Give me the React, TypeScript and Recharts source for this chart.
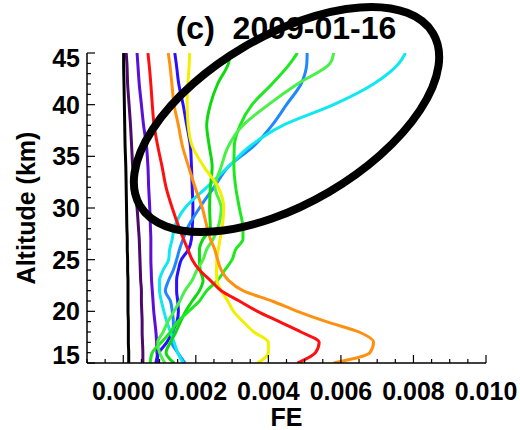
import React from 'react';
import { LineChart, Line, XAxis, YAxis, Label } from 'recharts';

// Altitude levels (km)
const ALT = [15, 16, 17, 18, 19, 20, 21, 22, 23, 24, 25, 26, 27, 28, 30, 32, 34, 36, 38, 40, 42, 44, 45];

// FE profiles (one value per altitude level above)
const BLACK = [0.00015, 0.00015, 0.00014, 0.00014, 0.00014, 0.00013, 0.00013, 0.00013, 0.00013, 0.00012, 0.00012, 0.00011, 0.00011, 0.0001, 0.00009, 0.00008, 0.00007, 0.00005, 0.00004, 0.00003, 0.00002, 0.00001, 0.00001];
const DARK_PURPLE = [0.00054, 0.00054, 0.00053, 0.00052, 0.00052, 0.00051, 0.0005, 0.0005, 0.00048, 0.00047, 0.00046, 0.00045, 0.00044, 0.00042, 0.00038, 0.00031, 0.00026, 0.00023, 0.0002, 0.00016, 0.00012, 0.0001, 0.00008];
const VIOLET = [0.00096, 0.00093, 0.00092, 0.0009, 0.00087, 0.00084, 0.00082, 0.0008, 0.00078, 0.00077, 0.00076, 0.00076, 0.00076, 0.00075, 0.00073, 0.0007, 0.00068, 0.00064, 0.00056, 0.0005, 0.00044, 0.0004, 0.00038];
const BLUE = [0.0009, 0.00098, 0.0012, 0.00135, 0.00148, 0.00152, 0.0015, 0.00147, 0.00147, 0.00152, 0.0016, 0.0018, 0.00188, 0.0019, 0.00192, 0.0019, 0.00188, 0.00185, 0.00175, 0.00165, 0.00153, 0.00146, 0.00142];
const DODGER = [0.0017, 0.0015, 0.00134, 0.00138, 0.00138, 0.00135, 0.0013, 0.00116, 0.00125, 0.00138, 0.00147, 0.00155, 0.00165, 0.00176, 0.0021, 0.0025, 0.0029, 0.0036, 0.0041, 0.0045, 0.0049, 0.00506, 0.00507];
const CYAN = [0.00165, 0.0015, 0.0014, 0.0013, 0.0012, 0.00112, 0.00105, 0.001, 0.001, 0.0011, 0.00125, 0.00128, 0.00135, 0.0014, 0.0017, 0.0023, 0.0029, 0.0035, 0.0044, 0.0058, 0.0069, 0.0076, 0.00778];
const GREEN_A = [0.0014, 0.00118, 0.0013, 0.00145, 0.00158, 0.00172, 0.0019, 0.0021, 0.0022, 0.00212, 0.0021, 0.0021, 0.0022, 0.0024, 0.00238, 0.0024, 0.00245, 0.00237, 0.0023, 0.0024, 0.0026, 0.0029, 0.00295];
const GREEN_B = [0.00074, 0.0008, 0.00105, 0.0013, 0.0015, 0.0018, 0.0021, 0.0023, 0.0026, 0.0028, 0.003, 0.0031, 0.0033, 0.0033, 0.0032, 0.0031, 0.00305, 0.00306, 0.00322, 0.00355, 0.0041, 0.0046, 0.0048];
const GREEN_C = [0.00115, 0.001, 0.00095, 0.0011, 0.00123, 0.0014, 0.00156, 0.0017, 0.0019, 0.00203, 0.0022, 0.0023, 0.00248, 0.0026, 0.0027, 0.00253, 0.0027, 0.0029, 0.0033, 0.004, 0.0048, 0.0057, 0.0058];
const YELLOW = [0.0037, 0.004, 0.004, 0.0036, 0.0033, 0.00304, 0.00288, 0.0027, 0.00258, 0.00257, 0.00258, 0.00262, 0.00267, 0.00272, 0.00277, 0.00262, 0.00222, 0.0019, 0.00179, 0.00176, 0.00178, 0.00182, 0.00183];
const ORANGE = [0.0058, 0.0068, 0.0069, 0.0065, 0.0056, 0.0048, 0.0041, 0.0033, 0.0029, 0.0027, 0.0026, 0.00252, 0.0024, 0.00232, 0.00218, 0.00198, 0.0018, 0.00163, 0.00152, 0.0014, 0.00134, 0.00128, 0.00124];
const RED = [0.0048, 0.0053, 0.0054, 0.0049, 0.0043, 0.0037, 0.0032, 0.0027, 0.0024, 0.0021, 0.0019, 0.00178, 0.00166, 0.00155, 0.00135, 0.00118, 0.00107, 0.00095, 0.00085, 0.0008, 0.00076, 0.00071, 0.00068];

const SERIES = [
  { key: 'black', color: '#000000', values: BLACK },
  { key: 'darkPurple', color: '#4c0a6c', values: DARK_PURPLE },
  { key: 'violet', color: '#5a10d8', values: VIOLET },
  { key: 'blue', color: '#2a10ff', values: BLUE },
  { key: 'dodger', color: '#2088ff', values: DODGER },
  { key: 'cyan', color: '#10e8f0', values: CYAN },
  { key: 'greenA', color: '#10d810', values: GREEN_A },
  { key: 'greenB', color: '#20e820', values: GREEN_B },
  { key: 'greenC', color: '#48f048', values: GREEN_C },
  { key: 'yellow', color: '#f0f000', values: YELLOW },
  { key: 'orange', color: '#ff9010', values: ORANGE },
  { key: 'red', color: '#ff1010', values: RED },
];

const X_DOMAIN: [number, number] = [-0.001, 0.01];
const Y_DOMAIN: [number, number] = [15, 45];
const X_TICKS = Array.from({ length: 23 }, (_, i) => (i * 5 - 10) / 10000);
const X_MAJOR = [0, 0.002, 0.004, 0.006, 0.008, 0.01];
const Y_TICKS = Array.from({ length: 31 }, (_, i) => 15 + i);
const Y_MAJOR = [15, 20, 25, 30, 35, 40, 45];

const TITLE = '(c)  2009-01-16';
const X_TITLE = 'FE';
const Y_TITLE = 'Altitude (km)';

const data = ALT.map((alt, i) => {
  const row: Record<string, number> = { alt };
  SERIES.forEach((s) => {
    row[s.key] = s.values[i];
  });
  return row;
});

const FONT = '"Liberation Sans", Arial, Helvetica, sans-serif';
const isXMajor = (v: number) => X_MAJOR.some((m) => Math.abs(m - v) < 1e-9);
const isYMajor = (v: number) => Y_MAJOR.includes(Math.round(v));

const BottomTick = (props: any) => {
  const { x, y, payload } = props;
  const v = payload.value;
  const major = isXMajor(v);
  return (
    <g>
      <line x1={x} x2={x} y1={y} y2={y - (major ? 8 : 4)} stroke="#000" strokeWidth={1.2} />
      {major && (
        <text x={x} y={y + 37} textAnchor="middle" fontFamily={FONT} fontWeight="bold" fontSize={25} fill="#000">
          {v.toFixed(3)}
        </text>
      )}
    </g>
  );
};

const TopTick = (props: any) => {
  const { x, y, payload } = props;
  const major = isXMajor(payload.value);
  return <line x1={x} x2={x} y1={y} y2={y + (major ? 8 : 4)} stroke="#000" strokeWidth={1.2} />;
};

const LeftTick = (props: any) => {
  const { x, y, payload } = props;
  const v = Math.round(payload.value);
  const major = isYMajor(v);
  const dy = v === 45 ? 14 : v === 15 ? 1 : 9;
  return (
    <g>
      <line x1={x} x2={x + (major ? 8 : 4)} y1={y} y2={y} stroke="#000" strokeWidth={1.2} />
      {major && (
        <text x={x - 7} y={y + dy} textAnchor="end" fontFamily={FONT} fontWeight="bold" fontSize={25} fill="#000">
          {v}
        </text>
      )}
    </g>
  );
};

const RightTick = (props: any) => {
  const { x, y, payload } = props;
  const major = isYMajor(payload.value);
  return <line x1={x} x2={x - (major ? 8 : 4)} y1={y} y2={y} stroke="#000" strokeWidth={1.2} />;
};

const XTitleLabel = (props: any) => {
  const vb = props.viewBox || {};
  return (
    <text x={vb.x + vb.width / 2} y={vb.y + 63} textAnchor="middle" fontFamily={FONT} fontWeight="bold" fontSize={25} fill="#000">
      {X_TITLE}
    </text>
  );
};

const YTitleLabel = (props: any) => {
  const vb = props.viewBox || {};
  const cx = vb.x + 26;
  const cy = vb.y + vb.height / 2;
  return (
    <text
      x={cx}
      y={cy}
      transform={`rotate(-90 ${cx} ${cy})`}
      textAnchor="middle"
      dominantBaseline="central"
      fontFamily={FONT}
      fontWeight="bold"
      fontSize={25}
      fill="#000"
    >
      {Y_TITLE}
    </text>
  );
};

// Annotation ellipse (hand-drawn highlight in the original figure)
const ELLIPSE = { cx: 286.5, cy: 119.5, rx: 170, ry: 84, angle: -30.4, width: 8 };

export default function App() {
  return (
    <div style={{ position: 'absolute', left: 0, top: 0, width: 520, height: 430, background: '#fff' }}>
      <LineChart
        width={520}
        height={430}
        data={data}
        layout="vertical"
        margin={{ top: 53, right: 34, bottom: 0, left: 0 }}
      >
        <XAxis
          type="number"
          domain={X_DOMAIN}
          ticks={X_TICKS}
          interval={0}
          allowDataOverflow
          height={67}
          tickSize={0}
          tickMargin={0}
          tickLine={false}
          tick={<BottomTick />}
          axisLine={{ stroke: '#000', strokeWidth: 1.5 }}
        >
          <Label content={<XTitleLabel />} />
        </XAxis>
        <XAxis
          xAxisId="top"
          orientation="top"
          type="number"
          domain={X_DOMAIN}
          ticks={X_TICKS}
          interval={0}
          allowDataOverflow
          height={0}
          tickSize={0}
          tickMargin={0}
          tickLine={false}
          tick={<TopTick />}
          axisLine={{ stroke: '#000', strokeWidth: 1.5 }}
        />
        <YAxis
          type="number"
          dataKey="alt"
          domain={Y_DOMAIN}
          ticks={Y_TICKS}
          interval={0}
          reversed
          allowDataOverflow
          width={87}
          tickSize={0}
          tickMargin={0}
          tickLine={false}
          tick={<LeftTick />}
          axisLine={{ stroke: '#000', strokeWidth: 1.5 }}
        >
          <Label content={<YTitleLabel />} />
        </YAxis>
        <YAxis
          yAxisId="right"
          orientation="right"
          type="number"
          dataKey="alt"
          domain={Y_DOMAIN}
          ticks={Y_TICKS}
          interval={0}
          reversed
          allowDataOverflow
          width={0}
          tickSize={0}
          tickMargin={0}
          tickLine={false}
          tick={<RightTick />}
          axisLine={{ stroke: '#000', strokeWidth: 1.5 }}
        />
        {SERIES.map((s) => (
          <Line
            key={s.key}
            dataKey={s.key}
            type="monotone"
            stroke={s.color}
            strokeWidth={3}
            dot={false}
            activeDot={false}
            isAnimationActive={false}
          />
        ))}
      </LineChart>
      <svg width={520} height={430} style={{ position: 'absolute', left: 0, top: 0, pointerEvents: 'none' }}>
        <text
          x={286}
          y={39}
          textAnchor="middle"
          fontFamily={FONT}
          fontWeight="bold"
          fontSize={32}
          fill="#000"
          style={{ whiteSpace: 'pre' }}
        >
          {TITLE}
        </text>
        <ellipse
          cx={ELLIPSE.cx}
          cy={ELLIPSE.cy}
          rx={ELLIPSE.rx}
          ry={ELLIPSE.ry}
          transform={`rotate(${ELLIPSE.angle} ${ELLIPSE.cx} ${ELLIPSE.cy})`}
          fill="none"
          stroke="#000"
          strokeWidth={ELLIPSE.width}
        />
      </svg>
    </div>
  );
}
